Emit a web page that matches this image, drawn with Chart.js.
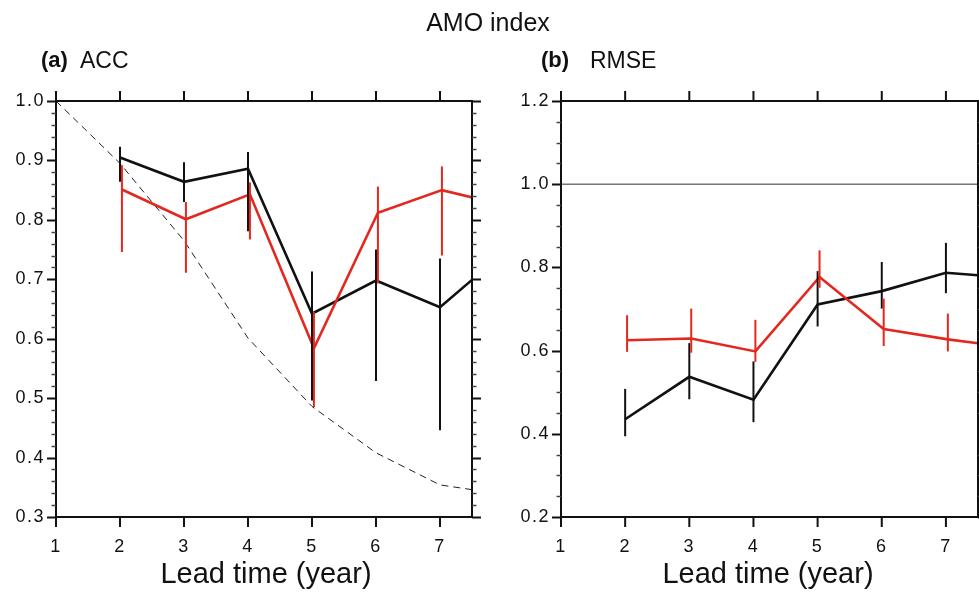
<!DOCTYPE html>
<html lang="en">
<head>
  <meta charset="UTF-8">
  <title>AMO index</title>
  <script src="https://cdn.jsdelivr.net/npm/chart.js"></script>
  <style>
    body { margin: 0; background: #fff; }
    .page { position: relative; width: 979px; height: 592px; overflow: hidden; font-family: "Liberation Sans", Arial, sans-serif; color: #111; }
    canvas { position: absolute; top: 0; }
    #accChart { left: 0; }
    #rmseChart { left: 490px; }
    .txt { position: absolute; white-space: nowrap; line-height: 1; }
    .main-title { font-size: 25px; left: 488px; top: 10px; transform: translateX(-50%); }
    .tag { font-size: 22px; font-weight: bold; top: 49px; }
    .sub { font-size: 23px; top: 49px; }
    .xlab { font-size: 29px; top: 559px; transform: translateX(-50%); }
  </style>
</head>
<body>
<div class="page">
  <canvas id="accChart" width="490" height="592"></canvas>
  <canvas id="rmseChart" width="489" height="592"></canvas>

  <div class="txt main-title">AMO index</div>
  <div class="txt tag" style="left: 41px;">(a)</div>
  <div class="txt sub" style="left: 80px;">ACC</div>
  <div class="txt tag" style="left: 541px;">(b)</div>
  <div class="txt sub" style="left: 590px;">RMSE</div>
  <div class="txt xlab" style="left: 266px;">Lead time (year)</div>
  <div class="txt xlab" style="left: 768px;">Lead time (year)</div>
</div>

<script>
  // lead years (8 is past the axis end, only the line segment toward it shows)
  const leadYears = [2, 3, 4, 5, 6, 7, 8];
  const persistYears = [1, 2, 3, 4, 5, 6, 7, 8];
  const xTicks = [1, 2, 3, 4, 5, 6, 7];
  const accTicks = [0.3, 0.4, 0.5, 0.6, 0.7, 0.8, 0.9, 1.0];
  const rmseTicks = [0.2, 0.4, 0.6, 0.8, 1.0, 1.2];

  // (a) ACC
  const accBlack   = [0.905, 0.864, 0.886, 0.642, 0.698, 0.653, 0.745];
  const accBlackLo = [0.864, 0.830, 0.781, 0.496, 0.529, 0.446, null];
  const accBlackHi = [0.923, 0.897, 0.914, 0.713, 0.750, 0.735, null];
  const accRed     = [0.851, 0.801, 0.843, 0.584, 0.812, 0.850, 0.824];
  const accRedLo   = [0.746, 0.711, 0.767, 0.485, 0.693, 0.740, null];
  const accRedHi   = [0.892, 0.830, 0.863, 0.645, 0.856, 0.890, null];
  const accPersist = [1.0, 0.895, 0.765, 0.601, 0.486, 0.408, 0.354, 0.338];

  // (b) RMSE
  const rmseBlack   = [0.435, 0.537, 0.482, 0.711, 0.743, 0.787, 0.775];
  const rmseBlackLo = [0.394, 0.483, 0.428, 0.658, 0.701, 0.738, null];
  const rmseBlackHi = [0.508, 0.618, 0.574, 0.791, 0.813, 0.859, null];
  const rmseRed     = [0.625, 0.629, 0.598, 0.777, 0.652, 0.627, 0.607];
  const rmseRedLo   = [0.597, 0.595, 0.573, 0.751, 0.611, 0.598, null];
  const rmseRedHi   = [0.685, 0.701, 0.674, 0.841, 0.725, 0.689, null];
  const rmseRefLine = [1.0, 1.0];
  const refYears = [1, 7.5];

  const RED = '#e2281f';
  const BLACK = '#111';
  const redShift = 0.03; // red markers sit a hair right of the black ones

  function pts(xs, ys) {
    return xs.map((x, i) => ({ x: x, y: ys[i] }));
  }

  function errSeries(xs, shift, lo, hi, color) {
    return { xs: xs.map(x => x + shift), lo: lo, hi: hi, color: color };
  }

  // frame, outward ticks (major+minor) and error bars
  function makeFramePlugin(majorStep, minorStep, bars) {
    return {
      id: 'frame',
      beforeDraw(chart) {
        chart.ctx.letterSpacing = '1.5px';
      },
      afterDatasetsDraw(chart) {
        const ctx = chart.ctx, xs = chart.scales.x, ys = chart.scales.y, a = chart.chartArea;
        ctx.save();
        ctx.beginPath();
        ctx.rect(a.left, a.top, a.right - a.left, a.bottom - a.top);
        ctx.clip();
        ctx.lineWidth = 2;
        bars.forEach(b => {
          ctx.strokeStyle = b.color;
          b.xs.forEach((x, i) => {
            if (b.lo[i] == null) return;
            const px = xs.getPixelForValue(x);
            ctx.beginPath();
            ctx.moveTo(px, ys.getPixelForValue(b.lo[i]));
            ctx.lineTo(px, ys.getPixelForValue(b.hi[i]));
            ctx.stroke();
          });
        });
        ctx.restore();
      },
      afterDraw(chart) {
        const ctx = chart.ctx, xs = chart.scales.x, ys = chart.scales.y, a = chart.chartArea;
        ctx.save();
        ctx.letterSpacing = '0px';
        ctx.strokeStyle = BLACK;
        ctx.lineWidth = 2;
        ctx.strokeRect(a.left, a.top, a.right - a.left, a.bottom - a.top);

        // y ticks on left and right
        const n = Math.round((ys.max - ys.min) / minorStep);
        for (let i = 0; i <= n; i++) {
          const v = ys.min + i * minorStep;
          const r = v / majorStep;
          const major = Math.abs(r - Math.round(r)) < 1e-6;
          const len = major ? 9 : 4.5;
          const py = Math.round(ys.getPixelForValue(v)) + 0.5;
          ctx.lineWidth = major ? 2 : 1.5;
          ctx.strokeStyle = major ? BLACK : '#444';
          ctx.beginPath();
          ctx.moveTo(a.left, py); ctx.lineTo(a.left - len, py);
          ctx.moveTo(a.right, py); ctx.lineTo(a.right + len, py);
          ctx.stroke();
        }
        // x ticks on bottom and top
        ctx.lineWidth = 2;
        ctx.strokeStyle = BLACK;
        xTicks.forEach(v => {
          const px = xs.getPixelForValue(v);
          ctx.beginPath();
          ctx.moveTo(px, a.bottom); ctx.lineTo(px, a.bottom + 10);
          ctx.moveTo(px, a.top); ctx.lineTo(px, a.top - 10);
          ctx.stroke();
        });
        ctx.restore();
      }
    };
  }

  const tickFont = { family: '"Liberation Sans", Arial, sans-serif', size: 18 };

  function panelOptions(yMin, yMax, yTicks, yWidth, padRight) {
    return {
      responsive: false,
      animation: false,
      events: [],
      layout: { padding: { top: 101, right: padRight, left: 0, bottom: 0 } },
      plugins: { legend: { display: false }, tooltip: { enabled: false } },
      scales: {
        x: {
          type: 'linear', min: 1, max: 7.5,
          afterBuildTicks: s => { s.ticks = xTicks.map(v => ({ value: v })); },
          afterFit: s => { s.height = 75; },
          grid: { display: false, drawTicks: false },
          border: { display: false },
          ticks: { padding: 19, color: BLACK, font: tickFont, maxRotation: 0, autoSkip: false,
                   callback: v => String(v) }
        },
        y: {
          type: 'linear', min: yMin, max: yMax,
          afterBuildTicks: s => { s.ticks = yTicks.map(v => ({ value: v })); },
          afterFit: s => { s.width = yWidth; },
          grid: { display: false, drawTicks: false },
          border: { display: false },
          ticks: { padding: 11, color: BLACK, font: tickFont, callback: v => v.toFixed(1) }
        }
      }
    };
  }

  function lineSet(data, color, width, dash) {
    return {
      data: data, borderColor: color, borderWidth: width, borderDash: dash || [],
      pointRadius: 0, tension: 0, fill: false
    };
  }

  const redYears = leadYears.map(x => x + redShift);

  new Chart(document.getElementById('accChart'), {
    type: 'line',
    data: {
      datasets: [
        lineSet(pts(redYears, accRed), RED, 2.6),
        lineSet(pts(leadYears, accBlack), BLACK, 2.6),
        lineSet(pts(persistYears, accPersist), '#222', 1, [7, 5])
      ]
    },
    options: panelOptions(0.3, 1.0, accTicks, 56, 18),
    plugins: [makeFramePlugin(0.1, 0.02, [
      errSeries(leadYears, 0, accBlackLo, accBlackHi, BLACK),
      errSeries(leadYears, redShift, accRedLo, accRedHi, RED)
    ])]
  });

  new Chart(document.getElementById('rmseChart'), {
    type: 'line',
    data: {
      datasets: [
        lineSet(pts(redYears, rmseRed), RED, 2.6),
        lineSet(pts(leadYears, rmseBlack), BLACK, 2.6),
        lineSet(pts(refYears, rmseRefLine), '#777', 1.5)
      ]
    },
    options: panelOptions(0.2, 1.2, rmseTicks, 71, 1),
    plugins: [makeFramePlugin(0.2, 0.05, [
      errSeries(leadYears, 0, rmseBlackLo, rmseBlackHi, BLACK),
      errSeries(leadYears, redShift, rmseRedLo, rmseRedHi, RED)
    ])]
  });
</script>
</body>
</html>
